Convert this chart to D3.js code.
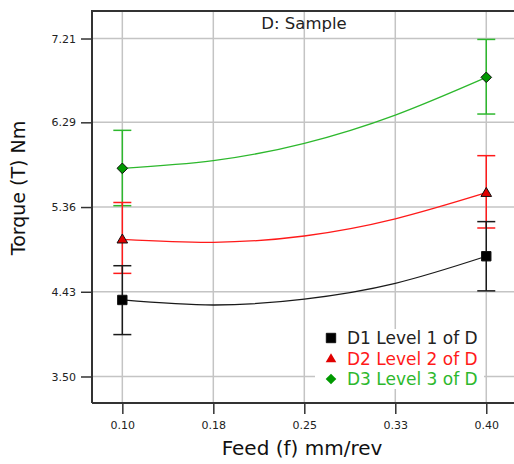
<!DOCTYPE html>
<html>
<head>
<meta charset="utf-8">
<script src="https://cdn.jsdelivr.net/npm/d3@7"></script>
<style>
  body { margin: 0; background: #fff; }
  svg { display: block; }
</style>
</head>
<body>
<svg id="chart"></svg>
<script>
// valeurs
const feedTicks = [0.10, 0.175, 0.25, 0.325, 0.40];
const feedTickLabels = ["0.10", "0.18", "0.25", "0.33", "0.40"];
const torqueTicks = [3.50, 4.43, 5.36, 6.29, 7.21];

const seriesNames = ["D1 Level 1 of D", "D2 Level 2 of D", "D3 Level 3 of D"];
const seriesColors = ["#1a1a1a", "#ff1a1a", "#2db82d"];
const markerFills = ["#000000", "#e00000", "#009900"];

// courbes du modèle (lues aux graduations de l'axe x)
const curveFeed = [0.10, 0.175, 0.25, 0.325, 0.40];
const d1Curve = [4.34, 4.285, 4.35, 4.523, 4.82];
const d2Curve = [5.006, 4.973, 5.042, 5.23, 5.517];
const d3Curve = [5.785, 5.869, 6.06, 6.37, 6.784];

// points de design et barres d'erreur
const pointFeed = [0.10, 0.40];
const d1Mean = [4.34, 4.82], d1Low = [3.96, 4.44], d1High = [4.716, 5.20];
const d2Mean = [5.006, 5.517], d2Low = [4.632, 5.13], d2High = [5.41, 5.924];
const d3Mean = [5.785, 6.784], d3Low = [5.375, 6.381], d3High = [6.202, 7.20];

const width = 514, height = 464;
const plot = { left: 92, top: 11, right: 516.6, bottom: 403 };

const svg = d3.select('#chart')
    .attr('width', width)
    .attr('height', height);

const x = d3.scaleLinear()
    .domain([0.075, 0.425])
    .range([plot.left, plot.right]);
const y = d3.scaleLinear()
    .domain([3.209, 7.512])
    .range([plot.bottom, plot.top]);

// grille
const grid = svg.append('g').attr('stroke', '#c4c4c4').attr('stroke-width', 1.5);
grid.selectAll('line.v').data(feedTicks).join('line')
    .attr('class', 'v')
    .attr('x1', d => x(d)).attr('x2', d => x(d))
    .attr('y1', plot.top).attr('y2', plot.bottom);
grid.selectAll('line.h').data(torqueTicks).join('line')
    .attr('class', 'h')
    .attr('x1', plot.left).attr('x2', plot.right)
    .attr('y1', d => y(d)).attr('y2', d => y(d));

// axes
const xAxis = svg.append('g')
    .attr('transform', 'translate(0,' + plot.bottom + ')')
    .call(d3.axisBottom(x).tickValues(feedTicks)
        .tickFormat((d, i) => feedTickLabels[i]).tickSize(11).tickPadding(7));
const yAxis = svg.append('g')
    .attr('transform', 'translate(' + plot.left + ',0)')
    .call(d3.axisLeft(y).tickValues(torqueTicks)
        .tickFormat(d3.format('.2f')).tickSize(11).tickPadding(5));
[xAxis, yAxis].forEach(a => {
    a.select('.domain').remove();
    a.selectAll('line').attr('stroke', '#333').attr('stroke-width', 1.5);
    a.selectAll('text')
        .attr('fill', '#222')
        .style('font-family', 'DejaVu Sans')
        .style('font-size', '11px');
});

// cadre
svg.append('path')
    .attr('d', 'M' + plot.left + ',' + plot.bottom + 'V' + plot.top + 'H' + plot.right +
        'M' + plot.left + ',' + plot.bottom + 'H' + plot.right)
    .attr('fill', 'none')
    .attr('stroke', '#333')
    .attr('stroke-width', 2);

// légende (fond blanc)
svg.append('rect')
    .attr('x', 315).attr('y', 329)
    .attr('width', 169).attr('height', 60)
    .attr('fill', '#fff');

const series = [
    { name: seriesNames[0], curve: d1Curve, mean: d1Mean, low: d1Low, high: d1High, shape: 'square' },
    { name: seriesNames[1], curve: d2Curve, mean: d2Mean, low: d2Low, high: d2High, shape: 'triangle' },
    { name: seriesNames[2], curve: d3Curve, mean: d3Mean, low: d3Low, high: d3High, shape: 'diamond' }
];
series.forEach((s, i) => { s.color = seriesColors[i]; s.fill = markerFills[i]; });

function markerPath(shape) {
    if (shape === 'square') return 'M-4.7,-4.7H4.7V4.7H-4.7Z';
    if (shape === 'triangle') return 'M0,-5.3L5.3,3.7H-5.3Z';
    return 'M0,-5.3L5.3,0L0,5.3L-5.3,0Z';
}

const line = d3.line()
    .x((d, i) => x(curveFeed[i]))
    .y(d => y(d))
    .curve(d3.curveNatural);

// ordre de dessin : vert, rouge, noir
const drawOrder = [2, 1, 0];
drawOrder.forEach(k => {
    const s = series[k];
    svg.append('path')
        .datum(s.curve)
        .attr('d', line)
        .attr('fill', 'none')
        .attr('stroke', s.color)
        .attr('stroke-width', 1.3);

    const eb = svg.append('g').attr('stroke', s.color).attr('stroke-width', 1.5);
    pointFeed.forEach((f, j) => {
        eb.append('line')
            .attr('x1', x(f)).attr('x2', x(f))
            .attr('y1', y(s.low[j])).attr('y2', y(s.high[j]));
        [s.low[j], s.high[j]].forEach(v => {
            eb.append('line')
                .attr('x1', x(f) - 9).attr('x2', x(f) + 9)
                .attr('y1', y(v)).attr('y2', y(v));
        });
    });
});

drawOrder.forEach(k => {
    const s = series[k];
    svg.append('g').selectAll('path')
        .data(pointFeed)
        .join('path')
        .attr('transform', (d, j) => 'translate(' + x(d) + ',' + y(s.mean[j]) + ')')
        .attr('d', markerPath(s.shape))
        .attr('fill', s.fill)
        .attr('stroke', '#111')
        .attr('stroke-width', 1);
});

// légende
const legend = svg.append('g');
series.forEach((s, i) => {
    const cy = 338 + i * 20.5;
    legend.append('path')
        .attr('transform', 'translate(331,' + cy + ')')
        .attr('d', markerPath(s.shape))
        .attr('fill', s.fill)
        .attr('stroke', s.shape === 'square' ? '#111' : 'none');
    legend.append('text')
        .attr('x', 347).attr('y', cy + 6)
        .attr('fill', s.color === '#1a1a1a' ? '#222' : s.color)
        .style('font-family', 'DejaVu Sans')
        .style('font-size', '17px')
        .text(s.name);
});

// titres
svg.append('text')
    .attr('x', 304).attr('y', 29)
    .attr('text-anchor', 'middle')
    .attr('fill', '#222')
    .style('font-family', 'DejaVu Sans')
    .style('font-size', '16.5px')
    .text('D: Sample');

svg.append('text')
    .attr('x', 302).attr('y', 455)
    .attr('text-anchor', 'middle')
    .attr('fill', '#111')
    .style('font-family', 'DejaVu Sans')
    .style('font-size', '20px')
    .text('Feed (f) mm/rev');

svg.append('text')
    .attr('transform', 'translate(25,188) rotate(-90)')
    .attr('text-anchor', 'middle')
    .attr('fill', '#111')
    .style('font-family', 'DejaVu Sans')
    .style('font-size', '19px')
    .text('Torque (T) Nm');
</script>
</body>
</html>
